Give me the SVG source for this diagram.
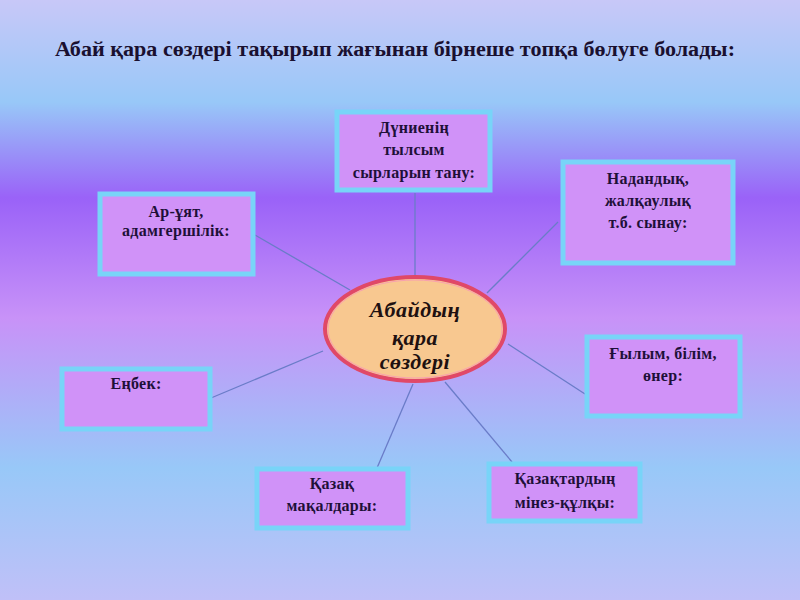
<svg xmlns="http://www.w3.org/2000/svg" width="800" height="600" viewBox="0 0 800 600">
<defs>
<linearGradient id="bg" x1="0" y1="0" x2="0" y2="1">
<stop offset="0" stop-color="#c8c8f8"/>
<stop offset="0.17" stop-color="#98c8f8"/>
<stop offset="0.33" stop-color="#9a62f8"/>
<stop offset="0.53" stop-color="#c892f8"/>
<stop offset="0.78" stop-color="#98c8f8"/>
<stop offset="1" stop-color="#c0c0f8"/>
</linearGradient>
<style>
.box{fill:#d092f8;stroke:#78d4f8;stroke-width:5}
.t{font-family:"Liberation Serif","DejaVu Serif",serif;font-weight:bold;font-size:16px;fill:#1e1038;text-anchor:middle;letter-spacing:0.3px}
.c{font-family:"Liberation Serif","DejaVu Serif",serif;font-weight:bold;font-style:italic;font-size:22px;fill:#201010;text-anchor:middle;letter-spacing:0.5px}
.ln{stroke:#6a7cc8;stroke-width:1.3;fill:none}
</style>
</defs>
<rect x="0" y="0" width="800" height="600" fill="url(#bg)"/>
<text x="395" y="56" font-family="'Liberation Serif','DejaVu Serif',serif" font-weight="bold" font-size="20" fill="#1a1030" text-anchor="middle" textLength="680" lengthAdjust="spacingAndGlyphs">Абай қара сөздері тақырып жағынан бірнеше топқа бөлуге болады:</text>
<g id="connectors">
<line class="ln" x1="415" y1="193" x2="415" y2="275"/>
<line class="ln" x1="255" y1="235" x2="350" y2="290"/>
<line class="ln" x1="558" y1="222" x2="487" y2="293"/>
<line class="ln" x1="508" y1="344" x2="585" y2="394"/>
<line class="ln" x1="211" y1="398" x2="323" y2="351"/>
<line class="ln" x1="377" y1="468" x2="413" y2="384"/>
<line class="ln" x1="445" y1="382" x2="512" y2="462"/>
</g>
<g id="node-center">
<ellipse cx="415" cy="329" rx="90" ry="52" fill="#f8c890" stroke="#e04868" stroke-width="4"/>
<ellipse cx="415" cy="329" rx="87" ry="49" fill="none" stroke="#f8a0b0" stroke-width="1"/>
<text class="c" x="415" y="317">Абайдың</text>
<text class="c" x="415" y="345">қара</text>
<text class="c" x="415" y="369">сөздері</text>
</g>
<g id="node-dunie">
<rect class="box" x="337" y="112" width="153" height="78"/>
<text class="t" x="414" y="133">Дүниенің</text>
<text class="t" x="414" y="155">тылсым</text>
<text class="t" x="414" y="178">сырларын тану:</text>
</g>
<g id="node-aruyat">
<rect class="box" x="100" y="194" width="153" height="80"/>
<text class="t" x="176" y="217">Ар-ұят,</text>
<text class="t" x="176" y="236">адамгершілік:</text>
</g>
<g id="node-nadandyk">
<rect class="box" x="563" y="162" width="170" height="101"/>
<text class="t" x="648" y="184">Надандық,</text>
<text class="t" x="648" y="206">жалқаулық</text>
<text class="t" x="648" y="228">т.б. сынау:</text>
</g>
<g id="node-gylym">
<rect class="box" x="587" y="337" width="153" height="79"/>
<text class="t" x="663" y="359">Ғылым, білім,</text>
<text class="t" x="663" y="381">өнер:</text>
</g>
<g id="node-enbek">
<rect class="box" x="62" y="369" width="148" height="60"/>
<text class="t" x="136" y="389">Еңбек:</text>
</g>
<g id="node-makal">
<rect class="box" x="257" y="469" width="151" height="59"/>
<text class="t" x="332" y="489">Қазақ</text>
<text class="t" x="332" y="511">мақалдары:</text>
</g>
<g id="node-minez">
<rect class="box" x="489" y="464" width="151" height="57"/>
<text class="t" x="565" y="484">Қазақтардың</text>
<text class="t" x="565" y="508">мінез-құлқы:</text>
</g>
</svg>
